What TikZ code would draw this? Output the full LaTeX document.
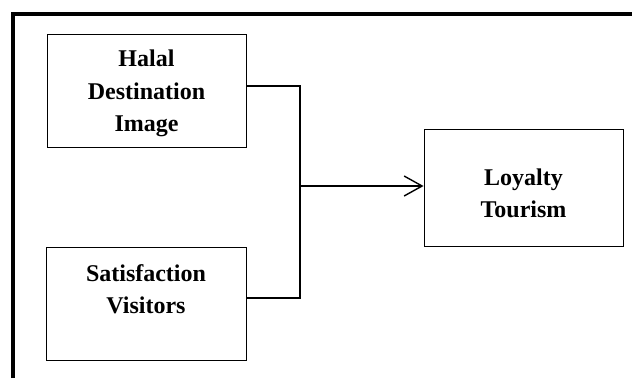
\documentclass[tikz,border=0pt]{standalone}
\usepackage{fontspec}
\setmainfont{Liberation Serif}
\usepackage{tikz}
\usetikzlibrary{arrows.meta, positioning, calc}

\begin{document}
\begin{tikzpicture}[x=1pt, y=-1pt,
    varbox/.style={draw, line width=0.9pt, inner sep=0pt},
    vartext/.style={align=center, inner sep=0pt,
                    font=\fontsize{24}{32.5}\selectfont\bfseries},
    link/.style={line width=1.4pt}]
  \useasboundingbox (0,0) rectangle (632,378);
  % outer frame (top and left edges only)
  \draw[line width=4.6pt] (13,378) -- (13,14) -- (632,14);
  % variables
  \node[varbox, minimum width=199pt, minimum height=113pt]
    (halal) at (146.5,90.5) {};
  \node[vartext] (halaltext) at ([yshift=-3pt]halal.center)
    {Halal\\Destination\\Image};
  \node[varbox, minimum width=200pt, minimum height=113pt]
    (visitors) at (146,303.5) {};
  \node[vartext] (visitorstext) at ([yshift=14.5pt]visitors.center)
    {Satisfaction\\Visitors};
  \node[varbox, minimum width=199pt, minimum height=117pt]
    (loyalty) at (523.5,187.5) {};
  \node[vartext] (loyaltytext) at ([yshift=-6pt]loyalty.center)
    {Loyalty\\Tourism};
  % connectors
  \coordinate (bus) at (300,186);
  \draw[link] ([yshift=4.5pt]halal.east) -| (bus) |- ([yshift=5.5pt]visitors.east);
  \draw[link, -{Straight Barb[length=18pt, width=20pt, line width=1.4pt]}]
    (bus) -- (bus -| loyalty.west);
\end{tikzpicture}
\end{document}
